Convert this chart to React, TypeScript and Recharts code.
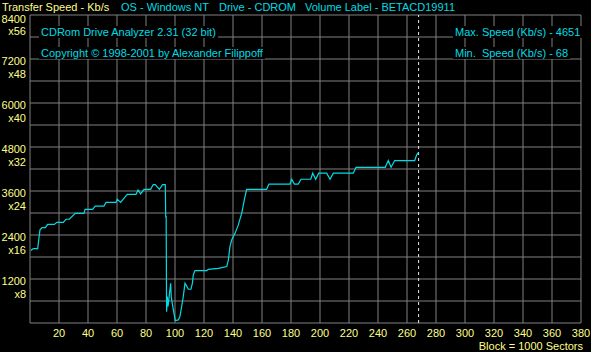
import React from "react";
import { LineChart, Line, XAxis, YAxis, CartesianGrid, ReferenceLine } from "recharts";

// block position (x1000 sectors) and transfer speed (Kb/s)
const blockPos = [
  0.5, 2.3, 5.3, 6.0, 6.9, 8.3, 10.6, 12.2, 16.8, 18.6, 23.0, 24.8, 27.1, 31.2, 37.2, 38.0,
  43.2, 45.0, 51.0, 52.4, 59.3, 60.2, 62.5, 67.1, 73.1, 74.5, 76.3, 78.6, 83.2, 85.0, 86.4,
  89.2, 91.5, 93.3, 93.6, 93.9, 94.2, 94.7, 95.2, 97.0, 97.4, 98.4, 99.3, 100.2, 102.3, 103.4,
  104.6, 105.7, 106.9, 107.6, 109.2, 111.0, 112.0, 112.6, 113.8, 121.9, 123.0, 129.9, 135.7,
  136.8, 137.9, 139.1, 141.4, 143.7, 144.3, 146.0, 147.8, 149.4, 163.2, 164.8, 179.3, 180.5,
  182.3, 185.0, 186.9, 193.6, 195.0, 197.0, 199.1, 204.6, 206.9, 209.2, 223.0, 224.8, 245.0,
  247.1, 249.0, 251.5, 265.3, 266.7, 267.8,
];
const speedKbs = [
  1975, 2030, 2030, 2265, 2540, 2600, 2600, 2690, 2690, 2745, 2745, 2830, 2830, 2990, 2990, 3100,
  3100, 3190, 3190, 3290, 3290, 3375, 3290, 3510, 3510, 3630, 3520, 3645, 3645, 3775, 3775,
  3645, 3775, 3775, 2900, 2900, 310, 720, 450, 1085, 720, 465, 265, 68, 85, 175,
  450, 720, 1085, 1040, 920, 920, 1085, 1310, 1430, 1430, 1465, 1490, 1540,
  1720, 2085, 2265, 2445, 2675, 2765, 2990, 3355, 3645, 3645, 3790, 3790, 3920,
  3790, 3790, 3920, 3920, 4085, 3920, 4085, 4085, 3920, 4085, 4085, 4245, 4245,
  4430, 4245, 4430, 4430, 4585, 4651,
];
const xTicks = [0, 20, 40, 60, 80, 100, 120, 140, 160, 180, 200, 220, 240, 260, 280, 300, 320, 340, 360, 380];
const yTicks = [0, 600, 1200, 1800, 2400, 3000, 3600, 4200, 4800, 5400, 6000, 6600, 7200, 7800, 8400];
const endOfDisc = 268;

const data = blockPos.map((b, i) => ({ block: b, speed: speedKbs[i] }));

const YELLOW = "#ffff88";
const CYAN = "#00dce4";
const FONT = "'Liberation Sans', Arial, sans-serif";

const YTick = (props: any) => {
  const { y, payload } = props;
  const v = payload.value;
  if (v === 0 || v % 1200 !== 0) return null;
  const top = v === 8400;
  return (
    <g>
      <text x={26} y={y + (top ? 5.5 : 3.5)} textAnchor="end" dominantBaseline="middle" fill={YELLOW} fontSize={11} fontFamily={FONT}>
        {v}
      </text>
      <text x={26} y={y + (top ? 17.5 : 16)} textAnchor="end" dominantBaseline="middle" fill={YELLOW} fontSize={11} fontFamily={FONT}>
        {"x" + v / 150}
      </text>
    </g>
  );
};

const XTick = (props: any) => {
  const { x, payload } = props;
  if (payload.value === 0) return null;
  return (
    <text x={x} y={334} textAnchor="middle" dominantBaseline="middle" fill={YELLOW} fontSize={11} fontFamily={FONT}>
      {payload.value}
    </text>
  );
};

const label = (left: number, top: number, color: string, text: string, boxed = false) => (
  <div
    style={{
      position: "absolute",
      left,
      top,
      color,
      fontFamily: FONT,
      fontSize: 11,
      lineHeight: "12px",
      whiteSpace: "pre",
      background: boxed ? "#000" : "transparent",
      padding: boxed ? "0 2px" : 0,
    }}
  >
    {text}
  </div>
);

export default function App() {
  return (
    <div style={{ position: "absolute", left: 0, top: 0, width: 591, height: 352, background: "#000", overflow: "hidden" }}>
      <LineChart width={591} height={352} data={data} margin={{ top: 15, right: 10, bottom: 0, left: 0 }}>
        <CartesianGrid stroke="#808080" strokeWidth={1} />
        <XAxis
          dataKey="block"
          type="number"
          domain={[0, 380]}
          ticks={xTicks}
          height={29}
          axisLine={false}
          tickLine={false}
          tick={<XTick />}
          interval={0}
        />
        <YAxis
          type="number"
          domain={[0, 8400]}
          ticks={yTicks}
          width={30}
          axisLine={false}
          tickLine={false}
          tick={<YTick />}
          interval={0}
        />
        <ReferenceLine x={endOfDisc} stroke="#e8e8e8" strokeDasharray="3 3" />
        <Line dataKey="speed" type="linear" stroke={CYAN} strokeWidth={1.2} dot={false} isAnimationActive={false} />
      </LineChart>
      {label(2, 1, YELLOW, "Transfer Speed - Kb/s")}
      {label(121, 1, CYAN, "OS - Windows NT")}
      {label(219, 1, CYAN, "Drive - CDROM")}
      {label(305, 1, CYAN, "Volume Label - BETACD19911")}
      {label(39, 26, CYAN, "CDRom Drive Analyzer 2.31 (32 bit)", true)}
      {label(39, 47, CYAN, "Copyright © 1998-2001 by Alexander Filippoff", true)}
      {label(453, 26, CYAN, "Max. Speed (Kb/s) - 4651", true)}
      {label(453, 47, CYAN, "Min.  Speed (Kb/s) - 68", true)}
      <div style={{ position: "absolute", right: 8, top: 340, color: YELLOW, fontFamily: FONT, fontSize: 11, lineHeight: "12px" }}>
        Block = 1000 Sectors
      </div>
    </div>
  );
}
